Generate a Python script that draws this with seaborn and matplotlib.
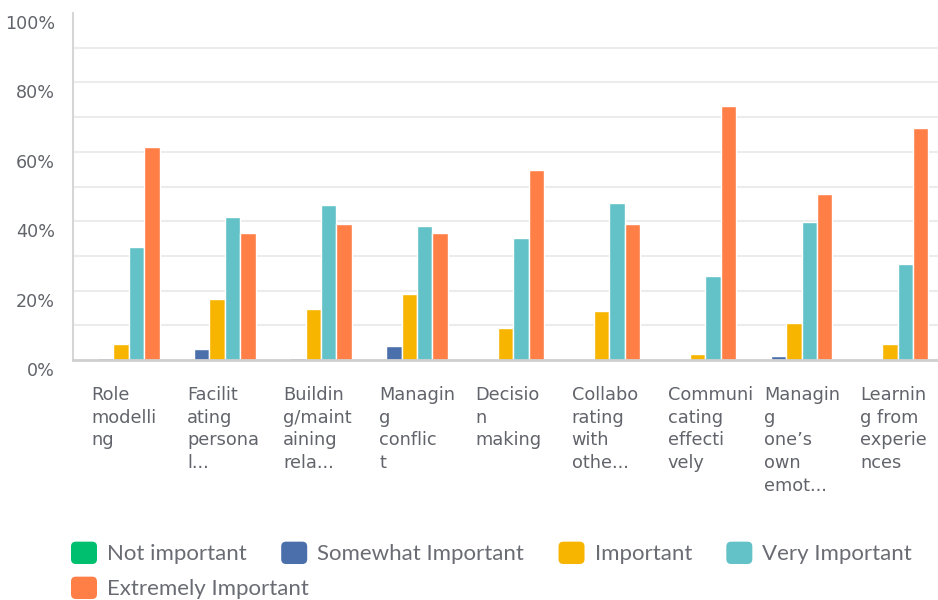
import numpy as np
import pandas as pd
import seaborn as sns
import matplotlib.pyplot as plt
from matplotlib.transforms import ScaledTranslation
from matplotlib.patches import FancyBboxPatch, Patch
from matplotlib.legend_handler import HandlerPatch

# Survey results: share of respondents choosing each importance level
categories = [
    "Role modelling", "Facilitating personal...", "Building/maintaining rela...",
    "Managing conflict", "Decision making", "Collaborating with othe...",
    "Communicating effectively", "Managing one's own emot...", "Learning from experiences",
]
tick_labels = [
    "Role\nmodelli\nng",
    "Facilit\nating\npersona\nl...",
    "Buildin\ng/maint\naining\nrela...",
    "Managin\ng\nconflic\nt",
    "Decisio\nn\nmaking",
    "Collabo\nrating\nwith\nothe...",
    "Communi\ncating\neffecti\nvely",
    "Managin\ng\none\u2019s\nown\nemot...",
    "Learnin\ng from\nexperie\nnces",
]
levels = ["Not important", "Somewhat Important", "Important",
          "Very Important", "Extremely Important"]

not_important = [0, 0, 0, 0, 0, 0, 0, 0, 0]
somewhat_important = [0.7, 3.2, 0.7, 4.0, 0, 0, 0, 1.2, 0]
important = [4.6, 17.6, 14.6, 19.1, 9.1, 14.1, 1.6, 10.7, 4.6]
very_important = [32.7, 41.1, 44.6, 38.6, 35.2, 45.2, 24.1, 39.8, 27.7]
extremely_important = [61.3, 36.7, 39.1, 36.6, 54.7, 39.1, 73.2, 47.7, 66.8]

y_ticks = [0, 20, 40, 60, 80, 100]
y_tick_labels = ["0%", "20%", "40%", "60%", "80%", "100%"]

colors = ["#00BF6F", "#4A6FAB", "#F7B500", "#62C2C7", "#FF7F46"]

wide = pd.DataFrame({
    "category": categories,
    levels[0]: not_important,
    levels[1]: somewhat_important,
    levels[2]: important,
    levels[3]: very_important,
    levels[4]: extremely_important,
})
df = wide.melt(id_vars="category", var_name="level", value_name="percent")

sns.set_theme(style="white")
plt.rcParams["font.family"] = ["Lato", "DejaVu Sans"]

text_color = "#62646b"
tick_font = ["DejaVu Sans"]

fig = plt.figure(figsize=(9.38, 6), dpi=100)
ax = fig.add_axes([73 / 938, 240 / 600, 865 / 938, 347 / 600])

sns.barplot(
    data=df, x="category", y="percent", hue="level",
    order=categories, hue_order=levels, palette=colors,
    width=0.8, saturation=1, edgecolor="white", linewidth=1,
    legend=False, ax=ax, zorder=3,
)

ax.set_xlim(-0.5, len(categories) - 0.5)
ax.set_ylim(0, 100)
ax.set_xlabel("")
ax.set_ylabel("")

# Labels every 20%, light gridlines every 10%
ax.set_yticks(y_ticks)
ax.set_yticklabels(y_tick_labels, family=tick_font)
ax.set_yticks(np.arange(10, 100, 10), minor=True)
ax.yaxis.set_remove_overlapping_locs(False)
ax.grid(False)
ax.grid(which="minor", axis="y", color="#ececec", linewidth=1.5, zorder=0)
ax.tick_params(axis="y", which="both", length=0, pad=13,
               labelsize=12.6, labelcolor=text_color)
ylab_shift = ScaledTranslation(0, -9 / 100, fig.dpi_scale_trans)
for lab in ax.get_yticklabels():
    lab.set_transform(lab.get_transform() + ylab_shift)

ax.set_xticks(range(len(categories)))
ax.set_xticklabels(tick_labels, ha="left", va="top", linespacing=1.35,
                   family=tick_font)
ax.tick_params(axis="x", length=0, pad=18.5, labelsize=12.8, labelcolor=text_color)
xlab_shift = ScaledTranslation(-30 / 100, 0, fig.dpi_scale_trans)
for lab in ax.get_xticklabels():
    lab.set_transform(lab.get_transform() + xlab_shift)

for side in ["top", "right"]:
    ax.spines[side].set_visible(False)
ax.spines["left"].set_color("#d6d6d6")
ax.spines["left"].set_linewidth(1.5)
ax.spines["bottom"].set_color("#cfcfcf")
ax.spines["bottom"].set_linewidth(2)
ax.spines["left"].set_zorder(4)
ax.spines["bottom"].set_zorder(4)


def rounded_box(legend, orig_handle, xdescent, ydescent, width, height, fontsize):
    return FancyBboxPatch((-xdescent, -ydescent), width, height,
                          boxstyle="round,pad=0,rounding_size=3.5")


handles = [Patch(facecolor=c, edgecolor="none", label=l) for c, l in zip(colors, levels)]
legend_kw = dict(
    frameon=False, fontsize=16, handlelength=1.17, handleheight=1.17,
    handletextpad=0.45, columnspacing=1.55, borderpad=0, borderaxespad=0,
    labelcolor="#6a6c73", loc="center left",
    handler_map={Patch: HandlerPatch(patch_func=rounded_box)},
)
leg1 = fig.legend(handles=handles[:4], ncol=4,
                  bbox_to_anchor=(71 / 938, (600 - 553) / 600), **legend_kw)
leg2 = fig.legend(handles=handles[4:], ncol=1,
                  bbox_to_anchor=(71 / 938, (600 - 588) / 600), **legend_kw)

fig.savefig("out.png", dpi=100)
